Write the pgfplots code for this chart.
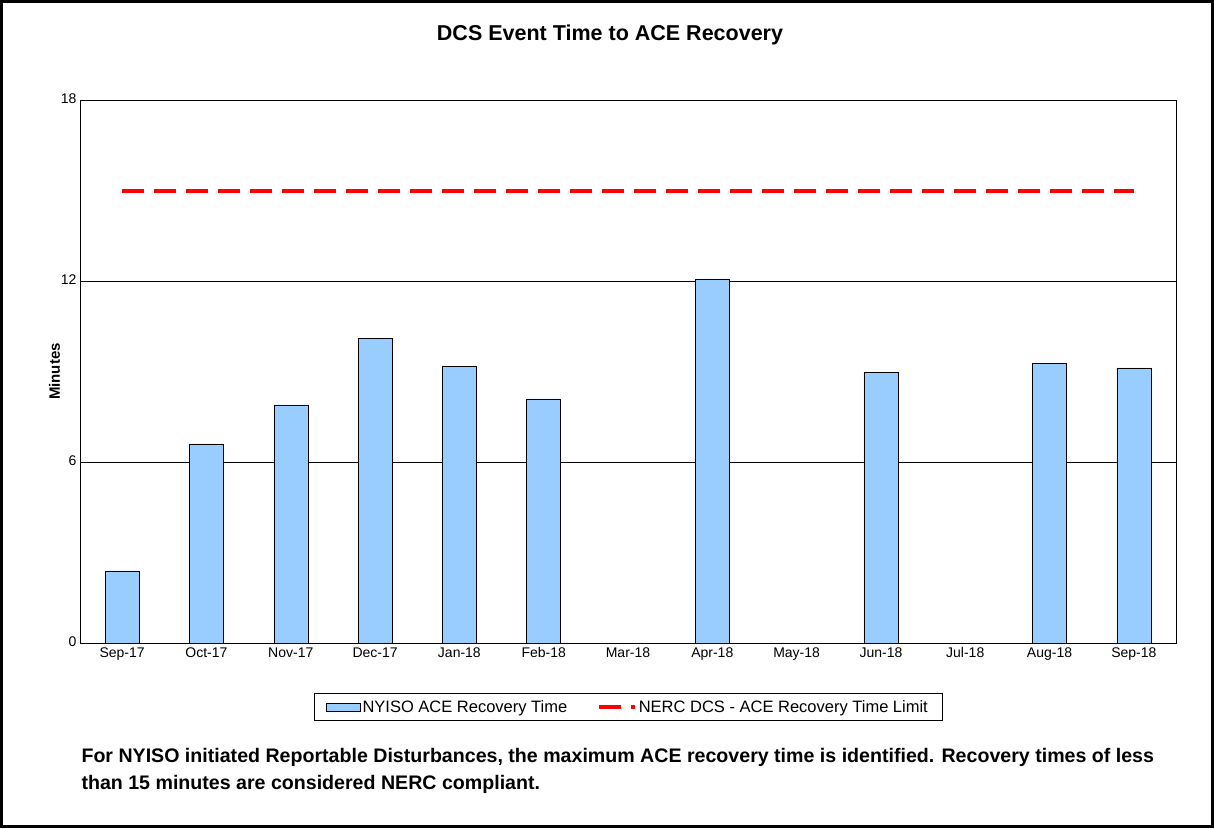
\documentclass[border=0pt]{standalone}
\usepackage{pgfplots}
\pgfplotsset{compat=1.18}
\usepackage{fontspec}
\setmainfont{Liberation Sans}
\begin{document}
\begin{tikzpicture}[x=1pt,y=1pt]
\path[use as bounding box] (0,0) rectangle (1214,828);
\draw[line width=2.5pt] (1.5,1.5) rectangle (1212.5,826.5);
\node[font=\bfseries\fontsize{21.5}{24}\selectfont] at (610,793) {DCS Event Time to ACE Recovery};
\begin{axis}[at={(80pt,185pt)},anchor=south west,
  width=1096pt,height=543pt,scale only axis,
  xmin=-0.5,xmax=12.5,ymin=0,ymax=18,
  ytick={0,6,12,18},
  xtick={0,...,12},
  xticklabels={Sep-17,Oct-17,Nov-17,Dec-17,Jan-18,Feb-18,Mar-18,Apr-18,May-18,Jun-18,Jul-18,Aug-18,Sep-18},
  ymajorgrids, grid style={black,line width=0.8pt},
  tick style={black}, xtick style={draw=none},
  ticklabel style={font=\fontsize{14}{16}\selectfont},
  typeset ticklabels with strut,
  /pgf/number format/assume math mode=true,
  ylabel={\bfseries Minutes}, ylabel style={font=\fontsize{15}{17}\selectfont, yshift=-6pt},
  axis line style={black,line width=0.6pt},
  legend style={at={(0.5,-0.092)},anchor=north,legend columns=2,draw=black,
    inner ysep=5pt,inner xsep=12pt,
    font=\fontsize{16.5}{20}\selectfont,/tikz/every even column/.append style={column sep=28pt}},
]
\addplot[ybar,bar width=34pt,fill={rgb,255:red,153;green,204;blue,255},draw=black,
  legend image code/.code={\draw[fill={rgb,255:red,153;green,204;blue,255},draw=black] (6pt,-4pt) rectangle (40pt,4pt);}] coordinates {
(0,2.39)(1,6.6)(2,7.89)(3,10.11)(4,9.18)(5,8.09)(7,12.07)(9,8.98)(11,9.28)(12,9.12)};
\addlegendentry{NYISO ACE Recovery Time}
\addplot[red,line width=3.5pt,dash pattern=on 22pt off 10pt,legend image code/.code={\draw[red,line width=3.5pt] (0pt,0pt)--(24pt,0pt);\draw[red,line width=3.5pt] (32pt,0pt)--(36pt,0pt);}] coordinates {
(0,14.98)(1,14.98)(2,14.98)(3,14.98)(4,14.98)(5,14.98)(6,14.98)(7,14.98)(8,14.98)(9,14.98)(10,14.98)(11,14.98)(12,14.98)};
\addlegendentry{NERC DCS - ACE Recovery Time Limit}
\end{axis}
\node[anchor=west,align=left,font=\bfseries\fontsize{19.6}{27}\selectfont] at (78,57) {For NYISO initiated Reportable Disturbances, the maximum ACE recovery time is identified. Recovery times of less\\than 15 minutes are considered NERC compliant.};
\end{tikzpicture}
\end{document}
